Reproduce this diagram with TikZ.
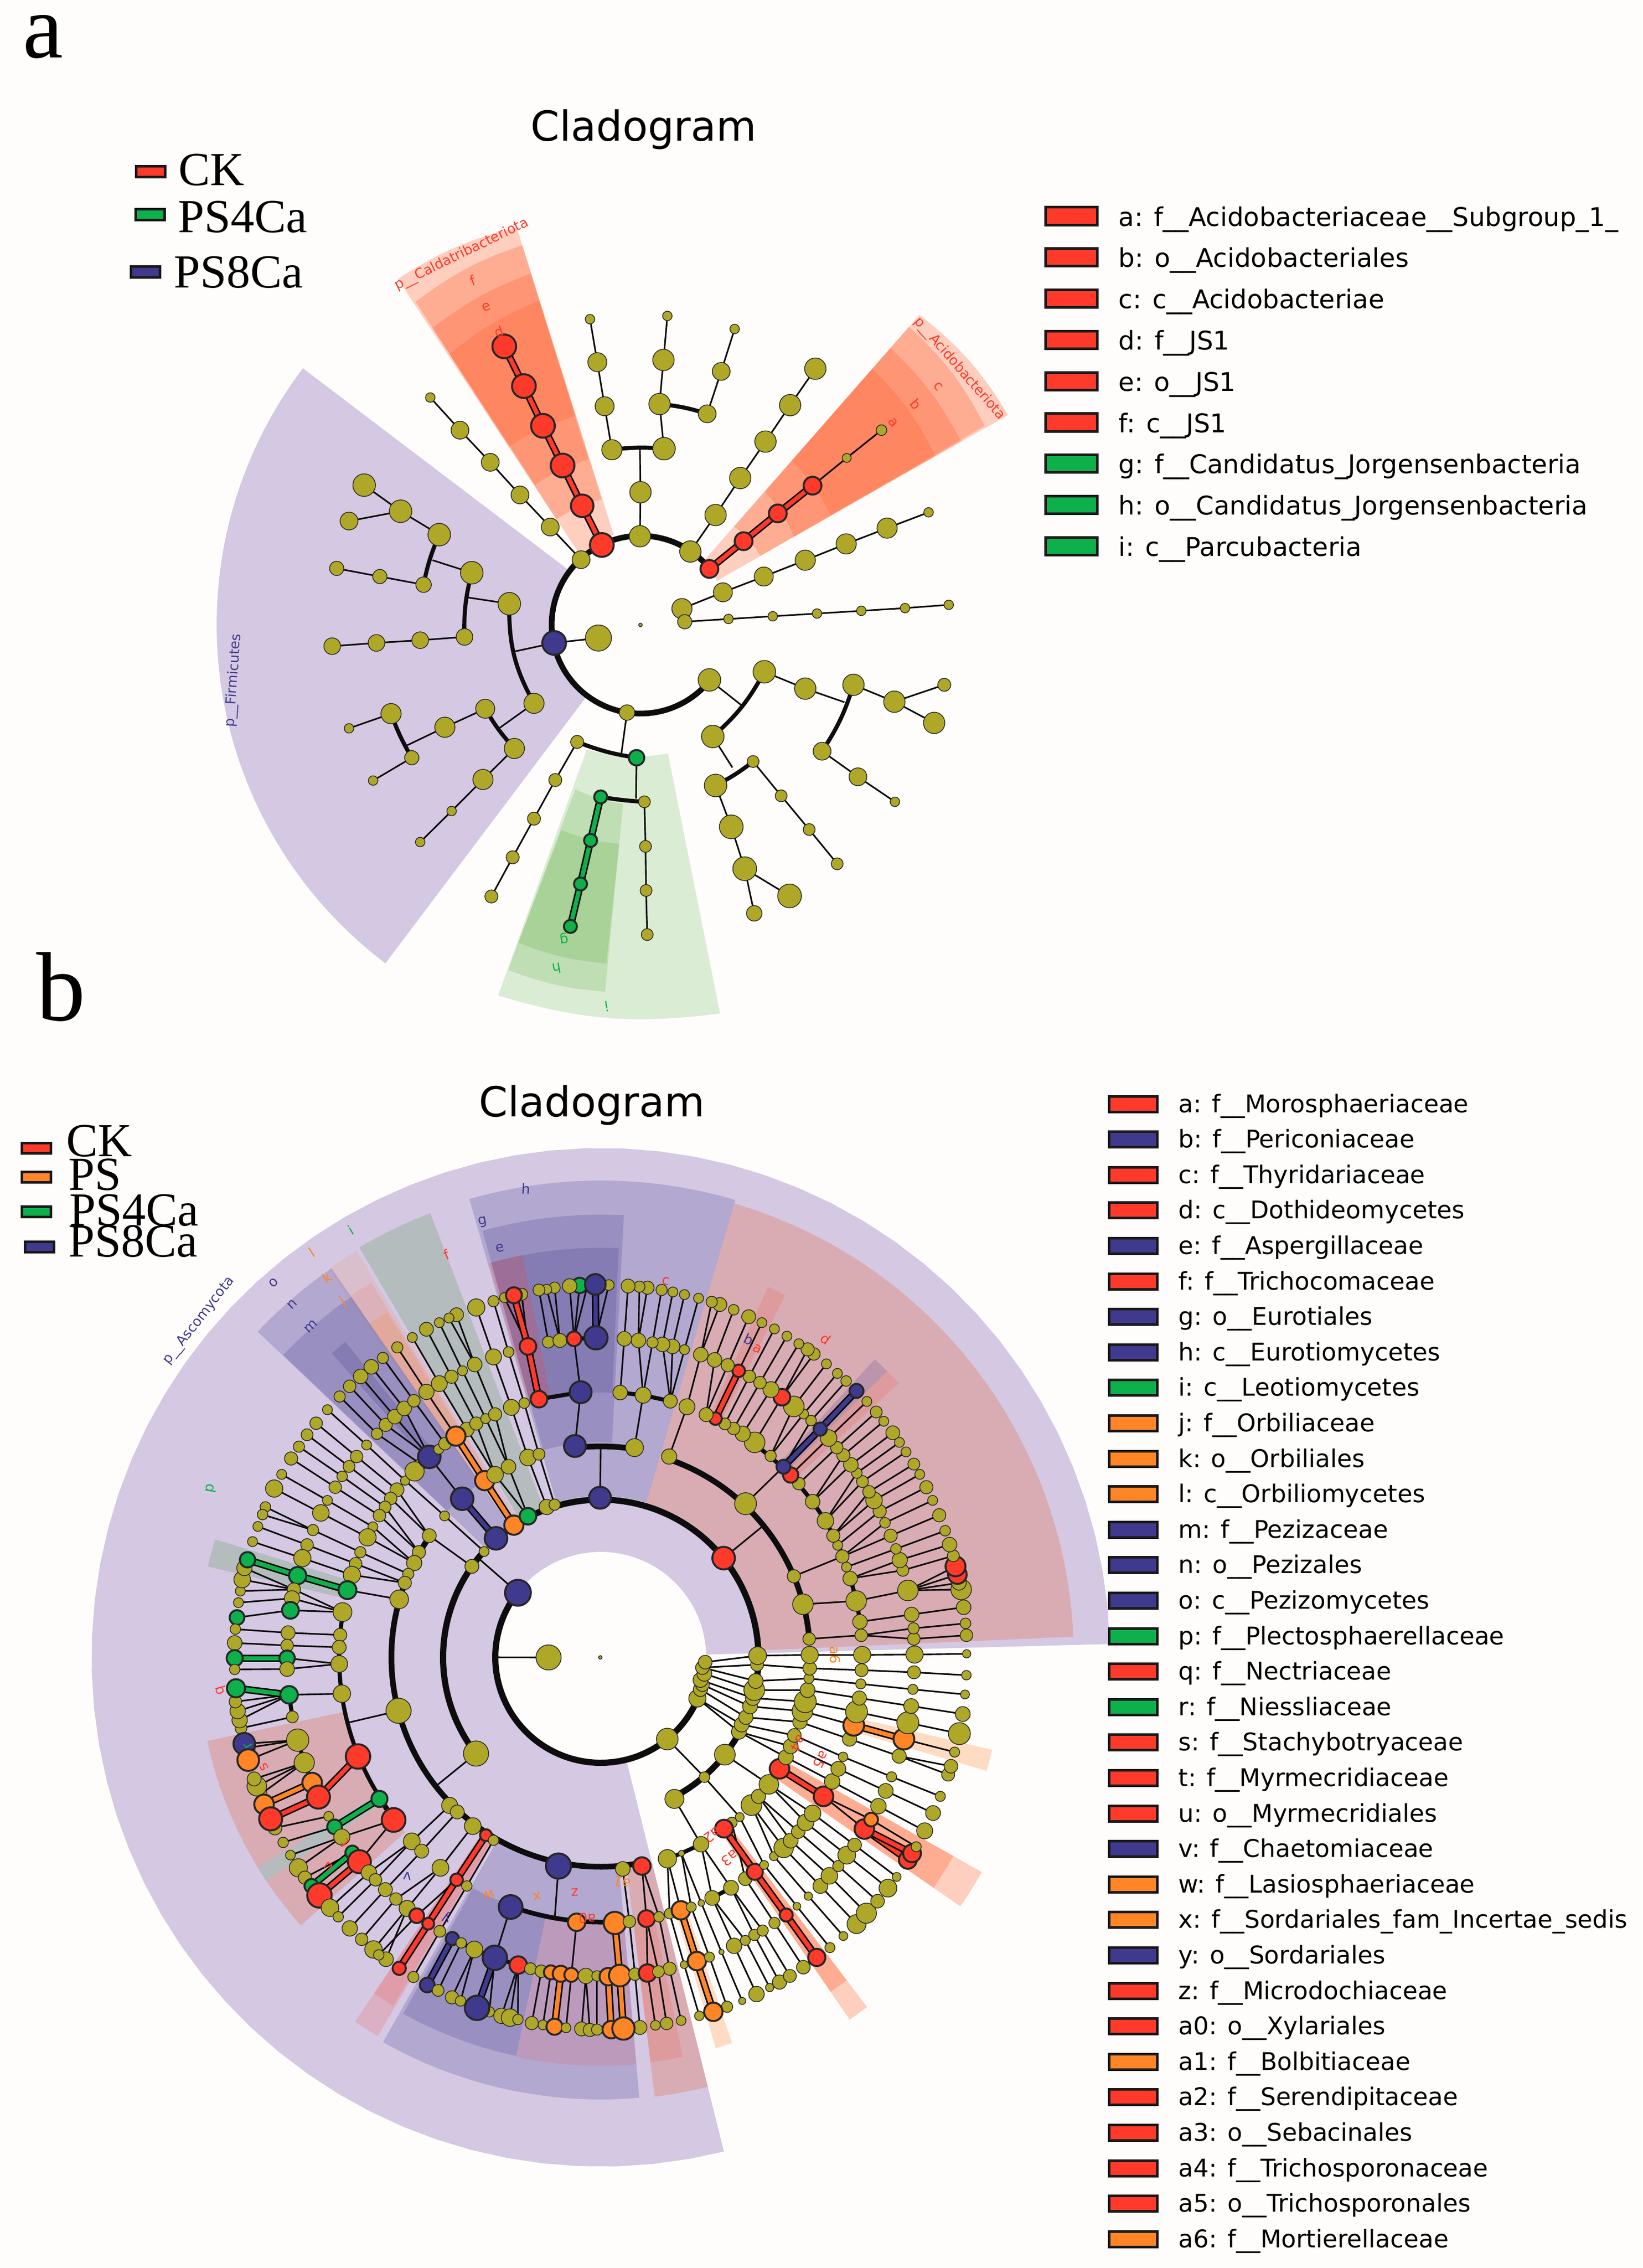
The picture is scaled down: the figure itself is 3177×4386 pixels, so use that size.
\documentclass[tikz,border=0pt]{standalone}
\usepackage{fontspec}
\setmainfont{DejaVu Sans}
\newfontfamily\tnr{Liberation Serif}
\usetikzlibrary{calc}
\pgfdeclarelayer{wed}\pgfdeclarelayer{edg}\pgfsetlayers{wed,edg,main}
\definecolor{co}{HTML}{AEA728}\definecolor{cr}{HTML}{FF3A2B}\definecolor{cg}{HTML}{0DB04B}
\definecolor{cy}{HTML}{FF8527}\definecolor{cb}{HTML}{3F3A8D}\definecolor{lv}{HTML}{D4C8E2}
\definecolor{sal}{HTML}{FF6330}\definecolor{lgr}{HTML}{40A020}\definecolor{lor}{HTML}{FF9040}
\definecolor{paper}{HTML}{FEFDFC}\definecolor{gw}{HTML}{B4BCBD}\definecolor{pk}{HTML}{D9ACB3}
\newcounter{lbc}
\def\noP{x}
\gdef\alledges{}
\newcommand\AddE[1]{\xdef\alledges{\unexpanded\expandafter{\alledges}\unexpanded{#1}}}
\newcommand\AddX[1]{\edef\tmpb{#1}\xdef\alledges{\unexpanded\expandafter{\alledges}\unexpanded\expandafter{\tmpb}}}
\newcommand\ZI{\def\ox{300}\def\oy{350}\def\sx{.9224}\def\sy{.9503}}
\newcommand\ZII{\def\ox{300}\def\oy{2200}\def\sx{1.65}\def\sy{1.568}}
\newcommand\ZIII{\def\ox{1150}\def\oy{2200}\def\sx{1.65}\def\sy{1.568}}
\newcommand\ZIV{\def\ox{350}\def\oy{3100}\def\sx{1.568}\def\sy{1.4255}}
\newcommand\ZV{\def\ox{1150}\def\oy{3100}\def\sx{1.845}\def\sy{1.4255}}
\newcommand\Pts[1]{\foreach \nm/\ax/\ay/\dd/\st/\pr in {#1}{%
  \node[\st,minimum size={1.06*\dd/\sx*0.24pt}] (\nm) at ({\ox+\ax/\sx},{\oy+\ay/\sy}) {};%
  \edef\tmp{\pr}\ifx\tmp\noP\else\AddX{\noexpand\draw[th] (\nm)--(\pr);}\fi}}
\newcommand\TE[2]{\AddE{\foreach \A/\B in {#2}{\draw[line width=3.4pt,black] (\A.center)--(\B.center);\draw[line width=2pt,draw=#1] (\A.center)--(\B.center);}}}
\newcommand\TK[1]{\AddE{\foreach \A/\B in {#1}{\draw[tk] (\A.center)--(\B.center);}}}
\newcommand\TA[1]{\AddE{\foreach \A/\B/\an in {#1}{\draw[tk] (\A.center) to[bend right=\an] (\B.center);}}}
\newcommand\JP[3]{\stepcounter{lbc}\coordinate (J\arabic{lbc}) at ({\ox+#2/\sx},{\oy+#3/\sy});\AddX{\noexpand\draw[th] (#1)--(J\arabic{lbc});}}
\newcommand\JR[5]{\stepcounter{lbc}\coordinate (J\arabic{lbc}) at ({#2+#5*cos(#4)},{#3-#5*sin(#4)});\AddX{\noexpand\draw[th] (#1)--(J\arabic{lbc});}}
\newcommand\Ann[8]{\fill[fill=#7,fill opacity=#8] plot[domain=#5:#6,samples=70] ({#1+#4*cos(\x)},{#2-#4*sin(\x)}) -- plot[domain=#6:#5,samples=70] ({#1+#3*cos(\x)},{#2-#3*sin(\x)}) -- cycle;}
\newcommand\Rg[6]{\AddE{\draw[line width=#6*0.24pt,black!95,line cap=round] plot[domain=#4:#5,samples=90] ({#1+#3*cos(\x)},{#2-#3*sin(\x)});}}
\def\Sc#1#2,#3;{\coordinate (#1) at ({\ox+#2/\sx},{\oy+#3/\sy});}
\newcommand\Wh[7]{\Sc{wa}#3;\Sc{wb}#4;\Sc{wc}#5;\Sc{wd}#6;\fill[fill=#1,fill opacity=#2] (wa) to[bend left=#7] (wb) -- (wc) to[bend right=#7] (wd) -- cycle;}
\newcommand\Lb[5]{\stepcounter{lbc}\node[rotate=#3,text=#4,inner sep=0pt,font=\fontsize{6.4}{7}\selectfont] (lb\arabic{lbc}) at ({\ox+#1/\sx},{\oy+#2/\sy}) {#5};}
\newcommand\Sw[6]{\stepcounter{lbc}\node[swt,fill=#5,minimum width=#3*0.24pt,minimum height=#4*0.24pt] (sw\arabic{lbc}) at (#1,#2) {};\node[anchor=base west,inner sep=0pt,font=\fontsize{22}{24}\selectfont\tnr] (tx\arabic{lbc}) at #6;}
\tikzset{nd/.style={circle,inner sep=0pt,outer sep=0pt,draw=black!85},
 co/.style={nd,fill=co,line width=0.35pt},cr/.style={nd,fill=cr,line width=0.9pt},
 cg/.style={nd,fill=cg,line width=0.9pt},cy/.style={nd,fill=cy,line width=0.9pt},cb/.style={nd,fill=cb,line width=0.9pt},
 th/.style={line width=0.75pt,black!95},tk/.style={line width=1.9pt,black!95},
 swt/.style={rectangle,draw=black!90,line width=1.2pt,inner sep=0pt}}
\begin{document}
\begin{tikzpicture}[x=0.24pt,y=-0.24pt]
\useasboundingbox (0,0) rectangle (3177,4386);
%%%%%%%%%%%%%%%%% backgrounds
\begin{pgfonlayer}{wed}
\fill[paper] (0,0) rectangle (3177,4386);
\ZI
\Ann{1239}{1208}{176}{820}{142.8}{233}{lv}{1}
\Wh{sal}{.3}{433,180}{645,85}{818,650}{760,690}{9}
\Wh{sal}{.3}{465,222}{655,118}{797,585}{716,622}{9}
\Wh{sal}{.3}{495,270}{670,170}{773,512}{678,558}{8}
\Wh{sal}{.3}{525,318}{685,220}{750,432}{632,488}{8}
\Wh{sal}{.3}{1364,246}{1522,430}{1002,735}{980,697}{10}
\Wh{sal}{.3}{1345,268}{1480,450}{1080,689}{1033,635}{10}
\Wh{sal}{.3}{1312,307}{1438,478}{1140,654}{1088,571}{9}
\Wh{sal}{.3}{1280,345}{1392,505}{1205,614}{1136,514}{9}
\Wh{lgr}{.18}{1008,1530}{612,1497}{770,1045}{915,1052}{12}
\Wh{lgr}{.18}{803,1490}{630,1450}{750,1118}{835,1145}{8}
\Wh{lgr}{.18}{805,1438}{648,1400}{725,1193}{828,1218}{8}
% panel b
\Ann{1162}{3205}{204}{985}{1.5}{284}{lv}{1}
\Ann{1162}{3205}{305}{915}{2.5}{73.6}{pk}{1}
\Ann{1162}{3205}{312}{922}{73.6}{106}{cb}{.22}
\Ann{1162}{3205}{416}{856}{87}{105.5}{cb}{.22}
\Ann{1162}{3205}{512}{792}{87.5}{105.5}{cb}{.22}
\Ann{1162}{3205}{512}{792}{101}{105.8}{cr}{.2}
\Ann{1162}{3205}{310}{920}{111}{120.5}{gw}{1}
\Ann{1162}{3205}{310}{917}{121}{125}{cy}{.12}
\Ann{1162}{3205}{410}{850}{121.5}{124.7}{cr}{.1}
\Ann{1162}{3205}{512}{785}{121.8}{124.7}{cy}{.2}
\Ann{1162}{3205}{312}{915}{124.7}{136.5}{cb}{.22}
\Ann{1162}{3205}{410}{848}{124.7}{136.4}{cb}{.22}
\Ann{1162}{3205}{510}{785}{129}{131.5}{cb}{.22}
\Ann{1162}{3205}{511}{780}{163}{167}{gw}{1}
\Ann{1162}{3205}{508}{778}{192}{221.8}{pk}{1}
\Ann{1162}{3205}{510}{778}{211.5}{213.7}{gw}{1}
\Ann{1162}{3205}{410}{850}{236}{239.5}{cr}{.17}
\Ann{1162}{3205}{410}{784}{236}{239.2}{cr}{.17}
\Ann{1162}{3205}{410}{855}{240.5}{275}{cb}{.22}
\Ann{1162}{3205}{510}{788}{241}{258}{cb}{.22}
\Ann{1162}{3205}{510}{790}{258}{275}{cr}{.12}
\Ann{1162}{3205}{410}{856}{277}{284}{pk}{1}
\Ann{1162}{3205}{510}{789}{277}{281.6}{cr}{.15}
\Ann{1162}{3205}{510}{788}{286.4}{288.8}{lor}{.3}
\Ann{1162}{3205}{410}{850}{304.5}{307.3}{sal}{.3}
\Ann{1162}{3205}{410}{785}{304.5}{307.3}{sal}{.3}
\Ann{1162}{3205}{410}{846}{325.3}{330.6}{sal}{.3}
\Ann{1162}{3205}{410}{783}{325.3}{330.6}{sal}{.3}
\Ann{1162}{3205}{510}{778}{343.6}{346.7}{lor}{.3}
\Ann{1162}{3205}{514}{786}{63}{65.7}{cr}{.15}
\Ann{1162}{3205}{510}{783}{45}{47.4}{cb}{.2}
\Ann{1162}{3205}{510}{783}{42.6}{45}{cr}{.15}
\end{pgfonlayer}
%%%%%%%%%%%%%%%%% rings
\Rg{1239}{1208}{172}{39}{322}{11}
\Rg{1162}{3205}{204}{142}{337}{12}
\Rg{1162}{3205}{305}{-62.7}{131}{12}
\Rg{1162}{3205}{305}{138}{218}{12}
\Rg{1162}{3205}{405}{144}{281}{11}
\Rg{1162}{3205}{405}{5}{71}{11}
\Rg{1162}{3205}{408}{81}{97}{11}
\Rg{1162}{3205}{506}{170}{218}{8}
\Rg{1162}{3205}{512}{250}{273}{9}
\Rg{1162}{3205}{508}{22.7}{66}{8}
\Rg{1162}{3205}{506}{7.8}{17.4}{8}
%%%%%%%%%%%%%%%%% panel a tree
\ZI
\Pts{pa/866/816/6/co/x,
p01/865/653/36/co/x,p02/866/572/36/co/p01,p03/815/494/34/co/x,p04/908/492/38/co/x,
p05/802/414/32/co/p03,p06/789/333/32/co/p05,p07/776/254/16/co/p06,
p08/900/410/36/co/p04,p09/907/329/36/co/p08,p10/914/248/16/co/p09,
p11/985/428/30/co/x,p12/1010/350/30/co/p11,p13/1034/272/16/co/p12,
p14/955/681/36/co/x,p15/1000/614/36/co/p14,p16/1044/546/36/co/p15,p17/1089/479/36/co/p16,p18/1133/412/36/co/p17,p19/1178/345/36/co/p18,
p20/760/696/30/co/x,p21/705/636/30/co/p20,p22/651/577/30/co/p21,p23/598/517/30/co/p22,p24/544/458/30/co/p23,p25/491/398/16/co/p24,
pb/712/849/40/cb/x,pc/791/840/44/co/pb,
p50/632/777/38/co/x,p51/676/960/34/co/x,p52/565/720/38/co/x,p53/552/838/28/co/x,p54/507/650/38/co/x,p55/479/742/26/co/x,
p56/438/607/38/co/p54,p57/373/559/38/co/p56,p58/346/625/30/co/p56,p59/401/727/24/co/p55,p60/324/712/24/co/p59,
p61/473/844/28/co/p53,p62/395/849/28/co/p61,p63/316/855/28/co/p62,
p64/589/970/32/co/x,p65/641/1043/34/co/x,p66/517/1004/34/co/p64,p67/421/979/34/co/x,p68/458/1060/24/co/x,p69/346/1006/16/co/p67,p70/389/1102/16/co/p68,
p71/585/1100/34/co/p65,p72/529/1158/16/co/p71,p73/473/1215/16/co/p72,
p74/842/977/26/co/x,p75/753/1031/22/co/x,p76/859/1060/26/cg/x,p77/714/1101/22/co/p75,p78/676/1172/22/co/p77,p79/638/1243/22/co/p78,p80/600/1315/22/co/p79,
p81/795/1132/22/cg/x,p82/873/1141/20/co/x,p83/777/1212/22/cg/x,p84/759/1292/22/cg/x,p85/741/1370/22/cg/x,p86/875/1223/20/co/p82,p87/876/1304/20/co/p86,p88/878/1385/20/co/p87,
p89/989/917/38/co/x,p90/1087/902/38/co/x,p91/995/1021/38/co/x,p92/1160/933/36/co/p90,p93/1246/926/36/co/x,p94/1190/1048/30/co/x,
p95/1319/957/36/co/p93,p96/1408/926/22/co/p95,p97/1390/996/36/co/p95,p98/1254/1095/30/co/p94,p99/1320/1141/16/co/p98,
pd/1000/1111/38/co/x,pe/1067/1067/20/co/x,pf/1028/1187/40/co/pd,pg/1052/1264/40/co/pf,ph/1069/1346/26/co/pg,pi/1132/1314/40/co/pg,pj/1117/1130/20/co/pe,pk/1167/1192/20/co/pj,pl/1217/1255/20/co/pk,
pm/940/786/34/co/x,pn/1013/756/32/co/pm,po/1086/727/32/co/pn,pp/1160/697/34/co/po,pq/1233/667/34/co/pp,pr/1306/638/34/co/pq,ps/1380/609/16/co/pr,
pt/945/810/24/co/x,pu/1023/805/16/co/pt,pv/1102/800/16/co/pu,pw/1181/795/16/co/pv,px/1260/790/16/co/pw,py/1338/785/16/co/px,pz/1416/779/16/co/py,
ra/797/669/40/cr/x,rb/762/597/38/cr/x,rc/727/523/40/cr/x,rd/692/450/40/cr/x,re/658/377/40/cr/x,rf/623/304/40/cr/x,
sa/989/713/30/cr/x,sb/1050/662/30/cr/x,sc/1111/611/30/cr/x,sd/1173/560/30/cr/x,se/1234/509/15/co/sd,sf/1296/458/18/co/se}
\TE{cr}{ra/rb,rb/rc,rc/rd,rd/re,re/rf,sa/sb,sb/sc,sc/sd}
\TE{cg}{p81/p83,p83/p84,p84/p85}
\TA{p04/p03/6,p11/p08/6,p50/p51/15,p52/p53/8,p54/p55/6,p64/p65/6,p67/p68/5,p75/p76/6,p81/p82/3,p91/p90/10,p94/p93/8,pd/pe/5}
\JP{p02}{865}{490}\JP{pb}{640}{865}\JP{p50}{555}{765}\JP{p52}{495}{697}\JP{p51}{615}{1005}\JP{p66}{450}{1037}
\JP{p74}{832}{1052}\JP{p76}{858}{1135}\JP{p89}{1048}{965}\JP{p92}{1230}{958}\JP{p91}{1030}{1078}
\Lb{547}{135}{26}{cr}{p\_\_Caldatribacteriota}
\Lb{1435}{345}{-49}{cr}{p\_\_Acidobacteriota}
\Lb{140}{918}{86}{cb}{p\_\_Firmicutes}
\Lb{567}{183}{20}{cr}{f}\Lb{591}{232}{20}{cr}{e}\Lb{613}{277}{20}{cr}{d}
\Lb{1317}{444}{-50}{cr}{a}\Lb{1357}{410}{-50}{cr}{b}\Lb{1397}{378}{-50}{cr}{c}
\Lb{730}{1392}{190}{cg}{g}\Lb{717}{1447}{190}{cg}{h}\Lb{806}{1517}{190}{cg}{i}
%%%%%%%%%%%%%%%%% panel b tree : inner levels
\ZIV\Pts{B0/1272/150/10/co/x,B1/1115/150/72/co/x,c02/1475/375/62/co/x}
\ZII\Pts{c01/1158/1380/78/cb/x}
\ZV\Pts{c09/367/263/58/co/x,c08/378/238/48/co/x,c07/385/225/46/co/x,c06/378/212/50/co/x,c05/392/195/50/co/x,c04/385/178/46/co/x,c03/395/163/46/co/x}
\JR{B1}{1162}{3205}{180}{204}\JR{c01}{1162}{3205}{141}{305}
\ZII\Pts{e01/1011/1300/42/co/x,e02/1050/1255/30/co/x,e03/1088/1215/68/cb/x,e04/1145/1175/58/cy/x,e05/1190/1148/50/cg/x,e06/1250/1120/46/co/x,e07/1275/1113/34/co/x,e08/1420/1092/66/cb/x}
\ZIII\Pts{e09/412/1275/68/cr/x}
\ZIV\Pts{e10/895/415/72/co/x}
\ZV\Pts{e22/285/540/64/co/x,e21/392/480/36/co/c02,e20/465/418/70/co/x,e19/515/355/50/co/c09,e18/525/335/50/co/c09,e17/540/315/48/co/c08,e16/555/285/50/co/c07,e15/565/262/50/co/c06,e14/570/240/70/co/c05,e13/575/215/50/co/c04,e12/580/170/44/co/c04,e11/582/145/60/co/c03}
\JR{e08}{1162}{3205}{90}{408}\JR{e09}{1162}{3205}{39}{405}\JR{e10}{1162}{3205}{218}{405}
%%%% level 4
\ZII\Pts{f01/875/1207/42/co/e01,f02/842/1257/40/co/x,f03/827/1290/46/co/x,f04/808/1323/34/co/x,f05/797/1350/40/co/x,f06/779/1400/56/co/x,f07/924/1147/30/co/e02,f08/980/1095/68/cb/x,f09/1052/1040/58/cy/x,f10/1085/1022/50/co/e05,f11/1128/998/44/co/e05,f12/1190/970/50/co/e06,f13/1225/960/36/co/e07,f14/1340/935/66/cb/x,f15/1530/940/54/co/x}
\ZIII\Pts{f16/238/967/46/co/x,f17/482/1110/66/co/x,f18/636/1330/40/co/x,f19/665/1415/62/co/x,f20/685/1520/38/co/x}
\ZIV\Pts{f21/660/297/72/co/x,f22/815/558/46/co/x,f23/838/576/40/co/x,f24/885/615/48/co/x,f25/925/640/34/cr/x,f26/948/654/30/co/x,f27/1145/725/72/cb/x,f28/1340/733/42/co/x,f29/1398/725/50/cr/x}
\ZV\Pts{f49/260/705/62/co/x,f48/310/690/20/co/x,f47/380/665/52/co/e22,f45/490/605/36/co/x,f46/462/622/60/cr/x,f44/518/590/30/co/e21,f43/560/557/70/co/x,f42/585/533/48/co/x,f41/622/500/66/co/e20,f40/660/457/66/cr/x,f39/683/425/50/co/e19,f38/700/395/50/co/e19,f37/713/365/46/co/e18,f36/733/328/48/co/e17,f35/742/298/70/co/e16,f34/752/272/74/co/e15,f33/760/240/50/co/e14,f32/765/208/34/co/e13,f31/768/180/46/co/e12,f30/768/143/58/co/e11}
\JR{f21}{1162}{3205}{194.5}{506}\JR{f27}{1162}{3205}{260}{512}
%%%% level 5
\ZII\Pts{g01/798/1040/28/co/f07,g02/772/1068/42/co/f01,g03/752/1094/38/co/f01,g04/734/1120/36/co/f02,g05/716/1146/38/co/f02,g06/695/1180/30/co/f03,g07/678/1212/52/co/f03,g08/655/1257/34/co/f04,g09/640/1292/38/co/f05,g10/628/1326/52/co/f05,g11/614/1372/54/cg/f06,
g12/848/990/36/co/x,g13/828/1012/58/co/x,g14/875/968/68/cb/f08,g15/905/945/30/co/x,g16/925/928/38/co/x,g18/995/885/44/co/f10,g19/1025/867/40/co/f10,g17/960/905/58/cy/x,g20/1055/852/30/co/f11,g21/1085/839/40/co/f11,g22/1137/818/48/co/f12,g23/1178/805/32/co/f13,g24/1225/793/50/cr/x,g25/1358/772/66/cb/f14}
\ZIV\Pts{g26/490/25/54/co/x,g27/483/88/38/co/x,g28/480/122/40/co/x,g29/480/168/48/co/x,g30/488/250/50/co/x,g31/537/423/70/cr/x,g32/602/540/46/cg/x,g33/645/598/68/cr/x,g34/700/657/48/co/f22,g35/730/684/40/co/f23,g36/787/730/48/co/f24,g37/836/763/36/cr/x,g38/867/780/30/co/f26,g39/1000/838/68/cb/x,g40/1200/880/50/cy/x,g41/1316/882/64/cy/x,g42/1360/878/36/co/f28,g43/1412/870/48/cr/f29,g44/1450/865/30/co/f29}
\ZV\Pts{g45/268/856/36/co/f49,g46/308/847/62/cy/f49,g47/345/838/34/co/f48,g48/381/827/22/co/f48,g49/420/813/50/co/f47,g50/487/785/50/co/f47,g51/538/760/46/co/f45,g52/572/741/54/cr/x,g53/605/722/30/co/f44,g54/640/698/30/co/f43,g55/675/675/66/co/f43,g56/700/655/50/co/f42,g57/727/630/46/co/f42,g58/753/605/56/co/f41,g59/778/580/56/co/f41,g60/817/533/66/cr/x,g61/848/492/52/co/f39,g62/870/457/50/co/f38,g63/887/424/32/co/f37,g64/910/375/48/co/f36,g65/925/337/70/cy/f35,g66/935/300/74/co/f34,g67/945/262/48/co/f33,g68/950/223/34/co/f32,g69/953/185/44/co/f31,g70/955/143/58/co/f30}
\ZIII\Pts{g71/847/1468/44/co/x,g72/851/1509/38/co/f20,g73/835/1405/62/co/f19,g74/816/1337/44/co/x,g75/804/1302/30/co/x,g76/791/1270/40/co/f18,g77/776/1236/30/co/x,g78/762/1207/40/co/x,g79/737/1162/50/co/x,g80/696/1104/44/co/x,g81/652/1049/38/co/x,g82/626/1023/46/cr/x,g83/603/998/42/cb/f17,g84/562/965/34/co/x,g85/511/924/62/co/x,g86/473/898/46/co/x,g87/444/882/38/co/x,g88/416/868/36/co/x,g89/386/852/38/cr/x,g90/356/840/42/co/x,g91/295/816/48/co/f16,g92/242/799/42/co/x,g93/155/781/48/co/f15,g94/82/773/44/co/x}
%%%% level 6
\ZII\Pts{h01/675/932/30/co/g01,h02/643/967/38/co/g02,h03/619/997/36/co/g03,h04/597/1027/32/co/g04,h05/575/1060/38/co/g05,h06/550/1100/30/co/g06,h07/529/1138/50/co/g07,h08/504/1190/34/co/g08,h09/485/1235/38/co/g09,h10/470/1275/52/co/g10,h11/455/1328/52/cg/x,h12/443/1370/40/co/g26,h13/437/1397/46/co/g26,
h14/708/898/34/co/g12,h15/736/871/40/co/g14,h16/765/846/44/co/g14,h17/795/821/44/co/g14,h18/826/798/38/co/g16,h19/866/771/46/co/g17,h20/907/746/48/co/g18,h21/946/725/40/co/g19,h22/981/707/30/co/g20,h23/1020/688/44/co/g21,h24/1080/665/48/co/g22,h25/1128/650/32/co/g23,h26/1190/633/50/cr/x,h27/1255/620/36/co/x,h28/1292/615/42/co/x,h29/1337/610/44/cr/g25,h30/1407/607/70/cb/x}
\ZIV\Pts{h31/332/20/48/cg/g26,h32/325/82/40/co/g27,h33/322/117/36/co/g28,h34/322/152/44/cg/g29,h35/322/182/42/co/g29,h36/328/253/50/cg/g30,h37/338/314/34/co/x,h38/354/378/64/co/x,h39/374/440/58/co/x,h40/398/495/56/cy/x,h41/417/535/66/cr/g31,h42/448/588/28/co/x,h43/466/617/42/cg/x,h44/488/645/46/co/g33,h46/520/688/40/cg/x,h47/541/713/66/cr/g33,h48/570/743/44/co/g34,h49/590/763/36/co/g34,h50/620/790/40/co/g35,h51/652/816/36/co/g36,h52/686/842/46/co/g36,h53/715/862/42/cr/g37,h54/750/884/34/cr/x,h55/785/905/34/co/g38,h56/823/925/38/cb/x,h57/850/937/30/co/x,h58/890/955/48/co/x,h59/952/978/70/cb/g39,h60/1023/998/50/cr/x,h61/1060/1008/34/co/x,h62/1093/1015/36/co/x,h63/1122/1018/40/cy/x,h64/1152/1022/46/cy/x,h65/1184/1025/40/cy/g40,h66/1228/1028/44/co/x,h67/1262/1028/30/co/x,h68/1296/1030/50/cy/x,h69/1331/1027/62/cy/x,h70/1377/1023/36/co/g42,h71/1415/1020/50/cr/g43,h72/1482/1008/38/co/g44,h73/1448/1016/34/co/g43}
\ZV\Pts{h74/320/997/26/co/g45,h75/365/987/62/cy/x,h76/410/976/34/co/g47,h77/453/962/18/co/g48,h78/498/945/52/co/g49,h79/538/930/34/co/g49,h80/570/915/38/co/g50,h81/600/903/38/co/g50,h82/642/882/38/co/g51,h83/684/860/44/cr/x,h84/722/836/26/co/g53,h85/763/808/28/co/g54,h86/806/780/50/co/g55,h87/838/752/56/co/g56,h88/870/725/38/co/g57,h89/900/695/60/co/g58,h90/928/667/46/co/g59,h91/963/623/66/cr/g60,h92/987/597/46/cy/g60,h93/1013/560/52/co/g61,h94/1039/518/50/co/g62,h95/1060/479/34/co/g63,h96/1087/422/48/co/g64,h97/1104/375/70/cy/x,h98/1118/330/74/co/g66,h99/1130/284/50/co/g67,hA0/1136/238/34/co/g68,hA1/1140/191/44/co/g69,hA2/1142/142/58/co/g70}
\ZIII\Pts{k01/1019/1520/38/co/g72,k02/1018/1488/34/co/g72,k03/1012/1446/44/co/g71,k04/1000/1373/62/co/g73,k05/984/1312/36/co/g74,k06/974/1281/46/co/g74,k07/962/1247/32/co/g75,k08/945/1207/40/co/g76,k09/927/1168/32/co/g76,k10/910/1133/40/co/g77,k11/892/1100/50/co/g78,k12/876/1074/38/co/g78,k13/855/1043/36/co/g79,k14/837/1017/32/co/g79,k15/818/992/44/co/g80,k16/794/963/40/co/g80,k17/773/940/38/co/g81,k18/747/911/50/co/g82,k19/720/884/40/cb/x,k20/691/858/32/co/g83,k21/667/838/30/co/g84,k22/636/815/62/co/g84,k23/598/787/50/cr/g85,k24/563/764/48/co/g86,k25/528/743/38/co/g87,k26/494/724/38/co/g88,k27/460/707/38/cr/x,k28/425/690/40/co/g90,k29/383/674/44/co/g90,k30/339/658/44/co/g91,k31/287/643/30/co/g92,k32/249/633/44/co/g92,k33/217/627/44/co/g92,k34/185/621/34/co/g93,k35/140/615/44/co/g93,k36/95/610/44/co/g94}
%%%% level 7
\ZIII\Pts{l01/1187/1509/38/co/k01,l02/1184/1473/32/co/k02,l03/1178/1424/44/co/k03,l04/1170/1370/62/co/k04,l05/1163/1350/44/co/k04,l06/1158/1325/56/cr/k04,l07/1152/1300/60/cr/k04,l08/1145/1268/36/co/k05,l09/1133/1234/44/co/k06,l10/1119/1192/32/co/k07,l11/1100/1145/40/co/k08,l12/1079/1100/30/co/k09,l13/1059/1060/40/co/k10,l14/1038/1021/30/co/k11,l15/1019/990/36/co/k12,l16/994/953/30/co/k13,l17/973/924/30/co/k14,l18/952/895/42/co/k15,l19/923/860/30/co/k16,l20/899/832/36/co/k17,l21/869/800/30/co/k18,l22/836/768/42/cb/x,l23/803/738/32/co/k20,l24/775/715/30/co/k21,l25/740/686/30/co/k22,l26/700/656/38/co/k23,l27/680/642/40/co/k23,l28/652/625/30/co/k24,l29/614/602/30/co/k25,l30/574/580/30/co/k26,l31/534/561/30/co/k27,l32/492/543/42/co/k28,l33/444/522/32/co/k29,l34/400/506/42/co/k30,l35/374/498/34/co/k30,l36/332/487/30/co/k31,l37/287/476/30/co/k32,l38/250/468/30/co/k33,l39/214/462/34/co/k34,l40/169/455/40/co/k35,l41/143/452/34/co/k35,l42/107/450/42/co/k36}
\ZII\Pts{m01/1448/447/32/co/h30,m03/1380/448/30/cg/h29,m04/1355/448/46/cg/h29,m02/1405/445/62/cb/x,m05/1323/450/44/co/h29,m06/1275/455/34/co/h28,m07/1250/460/30/co/h28,m08/1225/462/36/co/h27,m09/1170/475/36/co/h26,m11/1115/485/30/co/h26,m10/1145/478/48/cr/x,m12/1080/496/34/co/h25,m13/1025/515/52/co/h24,m14/962/537/42/co/h23,m15/938/547/30/co/h23,m16/907/561/30/co/h22,m17/866/581/42/co/h21,m18/821/606/30/co/h20,m19/773/636/34/co/h19,m20/727/668/34/co/h18,m21/690/695/44/co/h17,m22/656/724/44/co/h16,m23/621/754/38/co/h15,m24/589/785/34/co/h14,m25/550/825/30/co/h01,m26/514/866/38/co/h02,m27/485/901/36/co/h03,m28/459/937/34/co/h04,m29/434/973/40/co/h05,m30/404/1021/30/co/h06,m31/380/1064/52/co/h07,m32/352/1120/32/co/h08,m33/343/1143/32/co/h08,m34/328/1179/30/co/h09,m35/311/1225/30/co/h10,m40/266/1410/30/co/h13,m39/272/1375/30/co/h12,m38/278/1340/50/co/h12,m37/285/1305/46/co/h12,m36/295/1280/46/cg/x}
\ZIV\Pts{n01/170/40/42/cg/h31,n02/165/72/30/co/h32,n03/163/110/42/co/h33,n04/163/152/46/cg/x,n05/163/183/30/co/h35,n06/182/345/34/co/h37,n07/178/323/44/co/h36,n08/172/298/44/co/h36,n09/165/272/36/co/h36,n10/167/235/52/cg/x,n11/197/400/50/cb/h38,n12/192/388/62/cb/h38,n13/204/433/62/cy/h38,n14/245/525/30/co/h39,n15/230/505/56/co/h39,n16/222/485/40/co/h39,n17/252/555/56/cy/x,n18/285/620/40/co/h42,n19/272/595/66/cr/x,n20/310/660/30/co/h43,n21/332/695/28/co/h44,n22/356/730/52/co/h44,n23/376/757/38/co/h46,n24/396/780/40/cg/x,n25/420/806/70/cr/x,n26/452/840/50/co/h48,n27/477/865/30/co/h49,n28/512/897/44/co/h50,n29/548/927/36/co/h51,n30/622/982/42/co/h52,n31/584/955/50/co/h52,n32/600/970/30/co/h53,n33/662/1007/38/cr/x,n34/705/1031/32/co/h55,n35/747/1053/42/cb/x,n36/780/1068/34/co/h57,n37/822/1087/38/co/h58,n38/848/1097/30/co/h58,n39/935/1127/30/co/h59,n40/898/1116/70/cb/x,n41/972/1138/44/co/h60,n42/998/1143/50/co/h60,n43/1022/1148/30/co/h60,n44/1064/1158/38/co/h62,n45/1098/1163/28/co/h63,n46/1133/1168/46/cy/x,n47/1168/1171/28/co/h65,n48/1215/1174/40/co/h66,n49/1240/1177/38/co/h66,n50/1262/1176/32/co/h67,n51/1305/1176/50/cy/x,n52/1392/1170/40/co/h70,n53/1342/1173/64/cy/x,n54/1439/1164/28/co/h71,n55/1473/1159/36/co/h73,n56/1517/1151/28/co/h72}
\ZV\Pts{o01/374/1138/32/co/h74,o02/473/1113/38/co/h76,o03/424/1127/62/cy/x,o04/527/1097/24/co/h77,o05/578/1078/52/co/h78,o06/625/1060/28/co/h79,o07/660/1045/48/co/h80,o08/697/1028/44/co/h81,o09/745/1004/46/co/h82,o10/793/977/58/cr/x,o11/840/950/34/co/h84,o12/888/918/30/co/h85,o13/935/885/64/co/h86,o14/970/855/68/co/h87,o15/1010/822/46/co/h88,o16/1047/786/60/co/h89,o17/1078/755/30/co/h90,o18/1118/708/60/cr/x,o19/1133/690/60/cr/x,o20/1148/672/34/co/h92,o21/1178/628/54/co/h93,o22/1208/579/50/co/h94,o23/1234/533/34/co/h95,o24/1262/473/44/co/h96,o25/1272/450/46/co/h96,o26/1285/411/34/co/h97,o27/1302/360/74/co/h98,o28/1314/306/50/co/h99,o29/1322/252/30/co/hA0,o30/1327/199/32/co/hA1,o31/1328/140/28/co/hA2}
%%%% thick edges panel b
\TE{cr}{g24/h26,h26/m10,g89/k27,g31/h41,h41/n19,h47/n25,f25/g37,g37/h54,h54/n33,f40/g60,h91/o18,h91/o19,f46/g52,g52/h83,h83/o10}
\TE{cb}{l22/k19,k19/g83,e03/f08,h30/m02,h56/n35,h59/n40}
\TE{cg}{m36/h11,h11/g11,n04/h34,n10/h36,g32/h43,h46/n24}
\TE{cy}{e04/f09,f09/g17,h40/n17,h64/n46,g41/h69,h69/n53,h68/n51,h75/g46,h75/o03,g65/h97}
\TK{e01/e02,g94/g93,g93/g92,h27/h28,h28/h29,h29/h30,g24/g25,h37/h36,h38/h39,h39/h40,h40/h41,h56/h57,h57/h58,h58/h59,h59/h60,h63/h64,h64/h65,h67/h68,h68/h69,g49/g50,f47/f48,f48/f49,g33/g32,f14/f15}
%%%% letter labels panel b
\ZII
\Lb{140}{555}{52}{cb}{p\_\_Ascomycota}
\Lb{1183}{155}{-3}{cb}{h}\Lb{1046}{255}{12}{cb}{g}\Lb{1100}{335}{12}{cb}{e}\Lb{930}{355}{23}{cr}{f}
\Lb{625}{280}{30}{cg}{i}\Lb{500}{348}{33}{cy}{l}\Lb{548}{425}{33}{cy}{k}\Lb{600}{497}{33}{cy}{j}
\Lb{378}{440}{45}{cb}{o}\Lb{437}{505}{45}{cb}{n}\Lb{497}{572}{45}{cb}{m}\Lb{178}{1063}{80}{cg}{p}
\ZIII
\Lb{228}{435}{-10}{cr}{c}\Lb{493}{612}{-25}{cb}{b}\Lb{520}{640}{-25}{cr}{a}\Lb{737}{610}{-35}{cr}{d}
\ZIV
\Lb{122}{240}{105}{cr}{q}\Lb{205}{392}{120}{cg}{r}\Lb{252}{452}{120}{cr}{s}\Lb{497}{662}{130}{cr}{t}\Lb{447}{727}{140}{cr}{u}
\Lb{686}{752}{175}{cb}{v}\Lb{935}{803}{190}{cy}{w}\Lb{1080}{808}{190}{cy}{x}\Lb{806}{865}{165}{cb}{y}\Lb{1195}{797}{185}{cr}{z}
\Lb{1233}{870}{175}{cr}{a0}\Lb{1338}{770}{165}{cy}{a1}
\ZV
\Lb{420}{640}{215}{cr}{a2}\Lb{483}{703}{215}{cr}{a3}\Lb{727}{387}{240}{cr}{a4}\Lb{808}{432}{240}{cr}{a5}\Lb{858}{143}{270}{cy}{a6}
%%%%%%%%%%%%%%%%% titles and legends
\node[inner sep=0pt,font=\fontsize{19.2}{22}\selectfont] (ttla) at (1245,250) {Cladogram};
\node[inner sep=0pt,font=\fontsize{19.2}{22}\selectfont] (ttlb) at (1145,2137) {Cladogram};
\node[anchor=base west,inner sep=0pt,font=\fontsize{42}{46}\selectfont\tnr] (pnla) at (44,112) {a};
\node[anchor=base west,inner sep=0pt,font=\fontsize{45.6}{48}\selectfont\tnr] (pnlb) at (70,1973) {b};
\Sw{291}{332}{56}{21}{cr}{(345,358) {CK}}
\Sw{290}{415}{56}{21}{cg}{(344,449) {PS4Ca}}
\Sw{281}{526}{56}{21}{cb}{(336,556) {PS8Ca}}
\Sw{70}{2220}{56}{20}{cr}{(128,2236) {CK}}
\Sw{70}{2276}{56}{20}{cy}{(132,2301) {PS}}
\Sw{70}{2343}{56}{20}{cg}{(134,2370) {PS4Ca}}
\Sw{76}{2411}{56}{20}{cb}{(132,2430) {PS8Ca}}
\foreach \ttx/\cc [count=\i from 0] in {a: f\_\_Acidobacteriaceae\_\_Subgroup\_1\_/cr,b: o\_\_Acidobacteriales/cr,c: c\_\_Acidobacteriae/cr,d: f\_\_JS1/cr,e: o\_\_JS1/cr,f: c\_\_JS1/cr,g: f\_\_Candidatus\_Jorgensenbacteria/cg,h: o\_\_Candidatus\_Jorgensenbacteria/cg,i: c\_\_Parcubacteria/cg}{
 \node[swt,fill=\cc,minimum width=24pt,minimum height=8.2pt] (la\i) at (2072,{418+79.8*\i}) {};
 \node[anchor=base west,inner sep=0pt,font=\fontsize{11.95}{14}\selectfont] (lat\i) at (2163,{437+79.8*\i}) {\ttx};
}
\foreach \ttx/\cc [count=\i from 0] in {a: f\_\_Morosphaeriaceae/cr,b: f\_\_Periconiaceae/cb,c: f\_\_Thyridariaceae/cr,d: c\_\_Dothideomycetes/cr,e: f\_\_Aspergillaceae/cb,f: f\_\_Trichocomaceae/cr,g: o\_\_Eurotiales/cb,h: c\_\_Eurotiomycetes/cb,i: c\_\_Leotiomycetes/cg,j: f\_\_Orbiliaceae/cy,k: o\_\_Orbiliales/cy,l: c\_\_Orbiliomycetes/cy,m: f\_\_Pezizaceae/cb,n: o\_\_Pezizales/cb,o: c\_\_Pezizomycetes/cb,p: f\_\_Plectosphaerellaceae/cg,q: f\_\_Nectriaceae/cr,r: f\_\_Niessliaceae/cg,s: f\_\_Stachybotryaceae/cr,t: f\_\_Myrmecridiaceae/cr,u: o\_\_Myrmecridiales/cr,v: f\_\_Chaetomiaceae/cb,w: f\_\_Lasiosphaeriaceae/cy,x: f\_\_Sordariales\_fam\_Incertae\_sedis/cy,y: o\_\_Sordariales/cb,z: f\_\_Microdochiaceae/cr,a0: o\_\_Xylariales/cr,a1: f\_\_Bolbitiaceae/cy,a2: f\_\_Serendipitaceae/cr,a3: o\_\_Sebacinales/cr,a4: f\_\_Trichosporonaceae/cr,a5: o\_\_Trichosporonales/cr,a6: f\_\_Mortierellaceae/cy}{
 \node[swt,fill=\cc,minimum width=22.5pt,minimum height=7.2pt] (lb0\i) at (2192,{2135+68.6*\i}) {};
 \node[anchor=base west,inner sep=0pt,font=\fontsize{11.3}{13}\selectfont] (lbt\i) at (2279,{2151+68.6*\i}) {\ttx};
}
\begin{pgfonlayer}{edg}
\alledges
\end{pgfonlayer}
\end{tikzpicture}
\end{document}
